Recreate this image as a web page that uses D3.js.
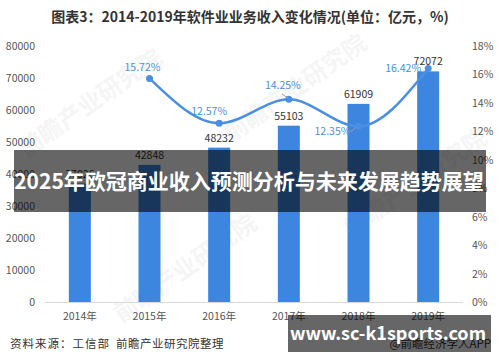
<!doctype html>
<html lang="zh">
<head>
<meta charset="utf-8">
<title>软件业业务收入变化情况</title>
<script src="https://cdn.jsdelivr.net/npm/d3@7"></script>
<style>
body { margin: 0; background: #fff; }
svg text { font-family: "Noto Sans CJK SC", "Noto Sans", sans-serif; }
</style>
</head>
<body>
<div id="chart"></div>
<script>
// data
var years = ["2014年", "2015年", "2016年", "2017年", "2018年", "2019年"];
var revenue = [37026, 42848, 48232, 55103, 61909, 72072];
var growth = [null, 15.72, 12.57, 14.25, 12.35, 16.42];
var leftTicks = [0, 10000, 20000, 30000, 40000, 50000, 60000, 70000, 80000];
var rightTicks = [0, 2, 4, 6, 8, 10, 12, 14, 16, 18];

var W = 500, H = 362;
var svg = d3.select("#chart").append("svg").attr("width", W).attr("height", H);

var x = d3.scaleBand().domain(years).range([45, 463]);
var yL = d3.scaleLinear().domain([0, 80000]).range([302, 46]);
var yR = d3.scaleLinear().domain([0, 18]).range([302, 46]);

// faint watermarks
var wm = [[95, 110], [300, 95], [190, 275], [420, 190]];
wm.forEach(function(p) {
    svg.append("text")
        .attr("transform", "translate(" + p[0] + "," + p[1] + ") rotate(-35)")
        .attr("text-anchor", "middle")
        .attr("font-size", "24px")
        .attr("font-weight", "bold")
        .attr("fill", "#000")
        .attr("opacity", 0.035)
        .text("前瞻产业研究院");
});

// title
svg.append("text")
    .attr("x", 250).attr("y", 22)
    .attr("text-anchor", "middle")
    .attr("font-size", "14px")
    .attr("font-weight", "bold")
    .attr("fill", "#333")
    .text("图表3：2014-2019年软件业业务收入变化情况(单位：亿元，%)");

// left axis labels
svg.selectAll(".lt").data(leftTicks).enter().append("text")
    .attr("x", 35).attr("y", function(d) { return yL(d) + 4; })
    .attr("text-anchor", "end")
    .attr("font-size", "10.5px")
    .attr("fill", "#555")
    .text(function(d) { return d; });

// right axis labels
svg.selectAll(".rt").data(rightTicks).enter().append("text")
    .attr("x", 472).attr("y", function(d) { return yR(d) + 4; })
    .attr("font-size", "10.5px")
    .attr("fill", "#555")
    .text(function(d) { return d + "%"; });

// baseline
svg.append("line")
    .attr("x1", 45).attr("x2", 463)
    .attr("y1", yL(0) + 0.5).attr("y2", yL(0) + 0.5)
    .attr("stroke", "#d9d9d9");

// x labels
svg.selectAll(".xl").data(years).enter().append("text")
    .attr("x", function(d) { return x(d) + x.bandwidth() / 2; })
    .attr("y", 320)
    .attr("text-anchor", "middle")
    .attr("font-size", "10.5px")
    .attr("fill", "#555")
    .text(function(d) { return d; });

// bars
var bw = 22;
svg.selectAll(".bar").data(revenue).enter().append("rect")
    .attr("x", function(d, i) { return x(years[i]) + x.bandwidth() / 2 - bw / 2; })
    .attr("y", function(d) { return yL(d); })
    .attr("width", bw)
    .attr("height", function(d) { return yL(0) - yL(d); })
    .attr("fill", "#3d86e0");

svg.selectAll(".bv").data(revenue).enter().append("text")
    .attr("x", function(d, i) { return x(years[i]) + x.bandwidth() / 2; })
    .attr("y", function(d) { return yL(d) - 6; })
    .attr("text-anchor", "middle")
    .attr("font-size", "10.5px")
    .attr("fill", "#333")
    .text(function(d) { return d; });

// growth line
var pts = [];
growth.forEach(function(g, i) {
    if (g != null) pts.push([x(years[i]) + x.bandwidth() / 2, yR(g), g]);
});

svg.append("path")
    .attr("d", d3.line().curve(d3.curveMonotoneX)(pts))
    .attr("fill", "none")
    .attr("stroke", "#4a8fe3")
    .attr("stroke-width", 2.5);

svg.selectAll(".dot").data(pts).enter().append("circle")
    .attr("cx", function(d) { return d[0]; })
    .attr("cy", function(d) { return d[1]; })
    .attr("r", 3.5)
    .attr("fill", "#4a8fe3");

// label offsets for the growth labels (layout only)
var lblOff = [[-7, -7], [-10, -8], [-6, -10], [-26, 9], [-25, 4]];
// leader lines
svg.append("path").attr("d", "M282,94 L288,98").attr("stroke", "#999").attr("fill", "none");
svg.append("path").attr("d", "M348,131 L352,131 L356,127").attr("stroke", "#999").attr("fill", "none");

svg.selectAll(".gl").data(pts).enter().append("text")
    .attr("x", function(d, i) { return d[0] + lblOff[i][0]; })
    .attr("y", function(d, i) { return d[1] + lblOff[i][1]; })
    .attr("text-anchor", "middle")
    .attr("font-size", "10.5px")
    .attr("fill", "#4a8fe3")
    .text(function(d) { return d[2].toFixed(2) + "%"; });

// source
svg.append("text")
    .attr("x", 10).attr("y", 348)
    .attr("font-size", "11.5px")
    .attr("letter-spacing", "1px")
    .attr("fill", "#333")
    .text("资料来源：工信部");
svg.append("text")
    .attr("x", 116).attr("y", 348)
    .attr("font-size", "11.5px")
    .attr("letter-spacing", "0.5px")
    .attr("fill", "#333")
    .text("前瞻产业研究院整理");

svg.append("text")
    .attr("x", 491).attr("y", 348)
    .attr("text-anchor", "end")
    .attr("font-size", "11.5px")
    .attr("fill", "#333")
    .text("@前瞻经济学人APP");

// overlay banner
svg.append("rect")
    .attr("x", 14).attr("y", 150).attr("width", 472).attr("height", 62)
    .attr("fill", "#000").attr("opacity", 0.6);
svg.append("text")
    .attr("x", 249).attr("y", 189)
    .attr("text-anchor", "middle")
    .attr("font-size", "21px")
    .attr("font-weight", "bold")
    .attr("fill", "#fff")
    .text("2025年欧冠商业收入预测分析与未来发展趋势展望");

// site box
svg.append("rect")
    .attr("x", 288).attr("y", 315).attr("width", 203).attr("height", 37)
    .attr("fill", "#000").attr("opacity", 0.6);
svg.append("text")
    .attr("x", 388).attr("y", 340)
    .attr("text-anchor", "middle")
    .attr("font-size", "18px")
    .attr("font-weight", "bold")
    .attr("fill", "#fff")
    .text("www.sc-k1sports.com");
</script>
</body>
</html>
